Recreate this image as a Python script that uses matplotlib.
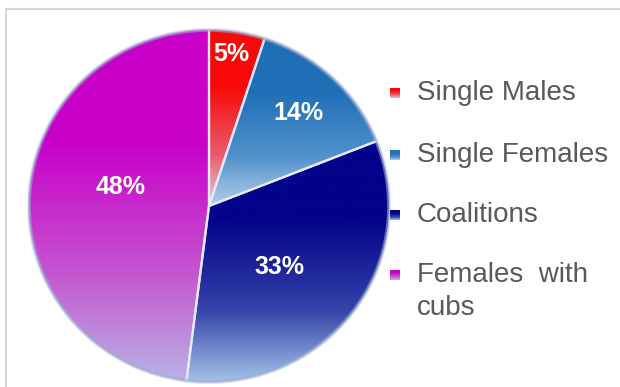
import numpy as np
import matplotlib.pyplot as plt
from matplotlib.colors import LinearSegmentedColormap
from matplotlib.patches import Rectangle, Ellipse

plt.rcParams['font.family'] = ['Liberation Sans', 'DejaVu Sans']

labels = ['Single Males', 'Single Females', 'Coalitions', 'Females  with\ncubs']
shares = [5, 14, 33, 48]
pct_text = ['5%', '14%', '33%', '48%']
top_colors = ['#f80808', '#1f6fb6', '#02028a', '#c800c8']
mid_colors = ['#e85a6a', '#5090cc', '#3444a8', '#c458d0']
bottom_colors = ['#e0ccd8', '#b4cce6', '#a6c4ea', '#b8b4e4']

fig = plt.figure(figsize=(6.2, 3.87), dpi=100)
fig.patch.set_facecolor('white')

# light frame around the chart area
fig.patches.append(Rectangle((5.5 / 620, -0.1), 1.2, 1.1 - 9.5 / 387,
                             transform=fig.transFigure, fill=False,
                             edgecolor='#d6d6d6', linewidth=1.5))

ax = fig.add_axes([28 / 620, 4 / 387, 362 / 620, 354 / 387])
ax.axis('off')

wedges, texts = ax.pie(shares, startangle=90, counterclock=False, radius=1,
                       colors=top_colors,
                       wedgeprops=dict(edgecolor='#e4eaf4', linewidth=1.6))

grad = np.linspace(0, 1, 256).reshape(-1, 1)


def grad_cmap(c0, cm, c1):
    return LinearSegmentedColormap.from_list(
        'g', [(0, c0), (0.32, c0), (0.7, cm), (1, c1)])


for w, c0, cm, c1 in zip(wedges, top_colors, mid_colors, bottom_colors):
    bb = w.get_path().get_extents()
    im = ax.imshow(grad, cmap=grad_cmap(c0, cm, c1), aspect='auto', origin='upper',
                   extent=[bb.x0, bb.x1, bb.y0, bb.y1], zorder=w.get_zorder())
    im.set_clip_path(w)
    w.set_facecolor('none')
    w.set_zorder(w.get_zorder() + 0.5)

# soft bluish rim around the pie
ax.add_patch(Ellipse((0, 0), 1.985, 1.985, fill=False, edgecolor='#9ea8d0',
                     linewidth=2.2, alpha=0.6, zorder=4))

ax.set_aspect('auto')
ax.set_xlim(-1, 1)
ax.set_ylim(-1, 1)

# percentage labels (radius, angle nudge in degrees)
label_r = [0.87, 0.72, 0.52, 0.50]
label_nudge = [1, 0, -4, -9]
cum = np.cumsum([0] + shares[:-1])
for s, c, t, r, d in zip(shares, cum, pct_text, label_r, label_nudge):
    ang = np.deg2rad(90 - 3.6 * (c + s / 2) + d)
    ax.text(r * np.cos(ang), r * np.sin(ang), t, color='white',
            fontsize=18, fontweight='bold', ha='center', va='center', zorder=5)

# legend
ys = [93, 155, 215, 275]
for lab, c0, cm, c1, y in zip(labels, top_colors, mid_colors, bottom_colors, ys):
    kax = fig.add_axes([390 / 620, 1 - (y + 5) / 387, 9.5 / 620, 10 / 387])
    kax.imshow(grad, cmap=grad_cmap(c0, cm, c1), aspect='auto')
    kax.axis('off')
    fig.text(417 / 620, 1 - y / 387, lab.split('\n')[0], color='#595959',
             fontsize=20, ha='left', va='center')
    if '\n' in lab:
        fig.text(417 / 620, 1 - (y + 33) / 387, lab.split('\n')[1],
                 color='#595959', fontsize=20, ha='left', va='center')

fig.savefig('out.png', dpi=100)
